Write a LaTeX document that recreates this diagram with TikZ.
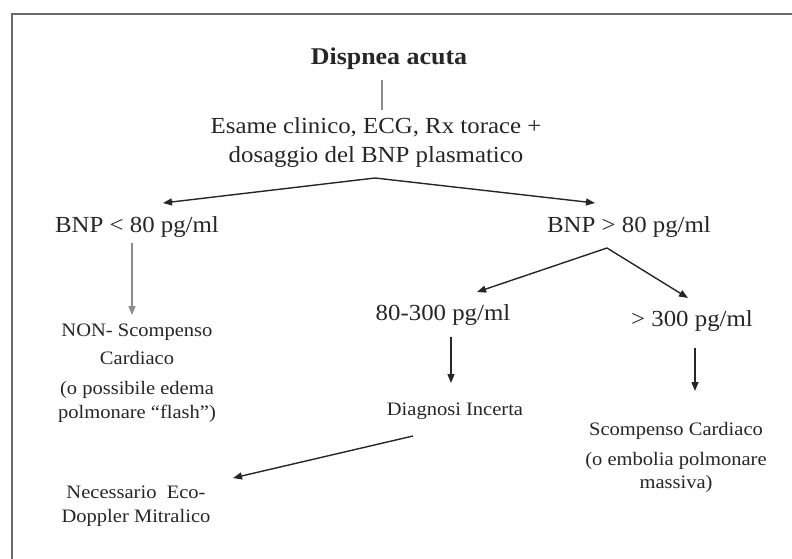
\documentclass[tikz,border=0pt]{standalone}
\usepackage{fontspec}
\setmainfont{Liberation Serif}[FakeStretch=1.08]
\usepackage{xcolor}
\usetikzlibrary{arrows.meta}
\usetikzlibrary{calc}

\definecolor{ink}{HTML}{262626}
\definecolor{stemgray}{HTML}{8C8C8C}
\definecolor{framegray}{HTML}{6A6A6A}

\newcommand{\titlesize}{\fontsize{24}{29}\selectfont\bfseries}
\newcommand{\mainsize}{\fontsize{23}{29}\selectfont}
\newcommand{\notesize}{\fontsize{19}{27}\selectfont}

\begin{document}
\begin{tikzpicture}[x=1pt,y=-1pt]
				\useasboundingbox (0,0) rectangle (792,559);
				\draw[framegray,line width=2pt] (12,559) -- (12,14) -- (792,14);

				% base of a node with several lines = base of its last line
				\begin{scope}[every node/.style={anchor=base,inner sep=0pt,text=ink,align=center,font=\mainsize}]
					\node[font=\titlesize] (title) at (389,65) {Dispnea acuta};
					\node (exam) at (376,162) {Esame clinico, ECG, Rx torace +\\dosaggio del BNP plasmatico};
					\node (low) at (137,232) {BNP < 80 pg/ml};
					\node (high) at (629,232) {BNP > 80 pg/ml};
					\node (mid) at (443,320) {80-300 pg/ml};
					\node (top) at (692,326) {> 300 pg/ml};
					\node[font=\notesize] (nonsc) at (137,418) {NON- Scompenso\\[1pt]Cardiaco\\[3pt](o possibile edema\\[-3pt]polmonare “flash”)};
					\node[font=\notesize] (uncert) at (455,415) {Diagnosi Incerta};
					\node[font=\notesize] (decomp) at (676,488) {Scompenso Cardiaco\\[3pt](o embolia polmonare\\[-4pt]massiva)};
					\node[font=\notesize] (echo) at (136,522) {Necessario\ \ Eco-\\[-3pt]Doppler Mitralico};
				\end{scope}

				\coordinate (fork1) at ($(exam.base)+(-1,16)$);
				\coordinate (fork2) at ($(high.base)+(-22,16)$);

				\draw[stemgray,line width=2pt] ($(title.base)+(-7,15)$) -- ($(exam.base)+(6,-52)$);

				\begin{scope}[>={Triangle[length=9pt,width=7pt]},
					every path/.style={draw=ink,line width=1.4pt}]
					\draw [->] (fork1) -- ($(low.base)+(26,-29)$);
					\draw [->] (fork1) -- ($(high.base)+(-34,-29)$);
					\draw [->,draw=stemgray] ($(low.base)+(-5,11)$) -- ($(nonsc.base)+(-5,-103)$);
					\draw [->] (fork2) -- ($(mid.base)+(34,-28)$);
					\draw [->] (fork2) -- ($(top.base)+(-4,-28)$);
					\draw [->] ($(mid.base)+(8,17)$) -- ($(uncert.base)+(-4,-32)$);
					\draw [->] ($(top.base)+(3,22)$) -- ($(decomp.base)+(19,-97)$);
					\draw [->] ($(uncert.base)+(-42,21)$) -- ($(echo.base)+(97,-44)$);
				\end{scope}
			\end{tikzpicture}
\end{document}
